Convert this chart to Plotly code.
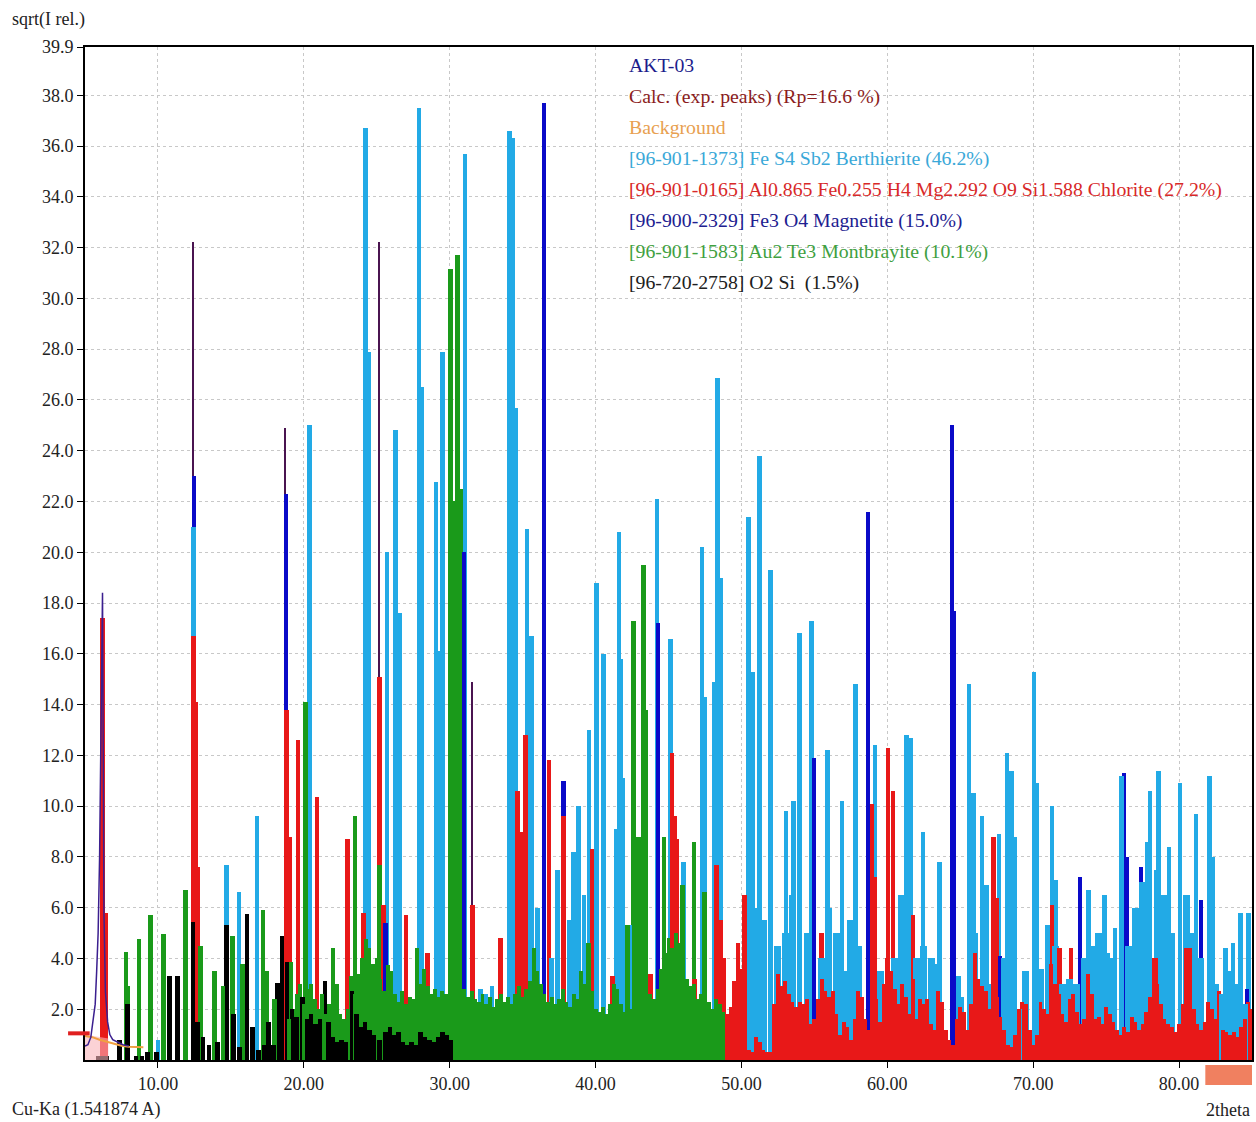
import plotly.graph_objects as go

# ---------------- data (2theta, sqrt(I rel.)) ----------------
# [96-901-1373] Berthierite (sky blue) peaks
BERTH = [(10.0, 0.8), (12.45, 21.0), (14.7, 7.7), (15.55, 6.6), (16.8, 9.6), (20.4, 25.0),
         (24.25, 36.7), (24.45, 27.9), (25.7, 20.0), (26.3, 24.8), (26.55, 17.6),
         (27.9, 37.5), (28.05, 26.5), (29.05, 22.75), (29.35, 16.1), (29.5, 27.9),
         (31.05, 35.7), (32.1, 2.8), (32.5, 2.6), (32.9, 2.9), (34.1, 36.6), (34.35, 36.3),
         (34.5, 25.7), (35.3, 20.9), (35.6, 16.7), (36.0, 6.0), (37.0, 4.0), (37.4, 7.5),
         (38.2, 5.5), (38.5, 8.2), (38.85, 10.0), (39.2, 6.5), (39.55, 13.0), (40.05, 18.8),
         (40.55, 16.0), (41.4, 9.1), (41.6, 20.8), (41.75, 15.8), (41.85, 11.1), (42.35, 5.3),
         (44.2, 22.1), (45.15, 16.6), (46.05, 7.8),
         (47.3, 20.2), (47.5, 14.3),
         (48.15, 14.9), (48.35, 26.85), (48.55, 19.0), (50.5, 21.4), (50.8, 15.3),
         (51.25, 23.8), (52.0, 19.3), (53.05, 9.8), (53.55, 10.2), (54.0, 16.8), (54.8, 17.3),
         (55.9, 12.2), (56.9, 10.2), (57.8, 14.8), (59.15, 12.4), (61.3, 12.8), (61.6, 12.7),
         (62.45, 9.0), (63.6, 7.8), (64.88, 3.3), (65.6, 14.8), (65.9, 10.5), (66.5, 9.6),
         (66.8, 6.9), (67.65, 8.9), (68.2, 12.1), (68.5, 11.4), (68.7, 8.8), (70.05, 15.3),
         (70.25, 10.9), (71.0, 5.3), (71.3, 10.0), (71.55, 7.1), (73.8, 6.7), (74.9, 6.5),
         (75.6, 5.2), (76.07, 11.2), (77.8, 8.6), (78.0, 10.6), (78.6, 11.4), (79.3, 8.4),
         (80.07, 10.9), (81.16, 9.7), (82.1, 11.2), (82.3, 8.0), (83.2, 4.4), (83.7, 4.6),
         (84.2, 5.8), (84.75, 5.8)]
# Berthierite body between peaks (high angles)
BERTH_BG = [(51.0, 6.0), (51.5, 5.5), (52.5, 4.5), (53.0, 5.0), (53.5, 6.5), (54.5, 5.0),
            (55.5, 4.0), (56.0, 6.0), (56.5, 5.0), (57.0, 3.5), (57.5, 5.5), (58.0, 4.5),
            (59.5, 3.5), (60.5, 4.0), (61.0, 6.5), (62.0, 4.0), (62.5, 4.5), (63.0, 4.0),
            (63.5, 3.8), (65.0, 2.5), (66.0, 5.0), (67.0, 3.0), (68.0, 4.0), (69.0, 2.0),
            (69.5, 3.5), (70.5, 3.6), (71.5, 4.5), (72.0, 3.0), (72.5, 3.2), (73.0, 3.0),
            (73.5, 4.0), (74.0, 4.5), (74.5, 5.0), (75.0, 4.2), (75.5, 4.0), (76.5, 4.5),
            (77.0, 6.0), (77.5, 7.0), (78.5, 7.5), (79.0, 6.5), (79.5, 5.0), (80.5, 6.5),
            (81.0, 5.0), (81.5, 4.0), (82.5, 3.0), (83.0, 2.6), (83.5, 3.5), (84.0, 3.0),
            (84.5, 2.2)]
# [96-901-0165] Chlorite (red) peaks
CHLOR = [(6.2, 17.4), (6.45, 5.8), (12.45, 16.7), (12.6, 14.1), (12.75, 7.6), (12.9, 4.5),
         (18.8, 13.8), (19.05, 8.8), (19.6, 12.6), (20.9, 10.35), (23.0, 8.7), (24.1, 5.8),
         (25.2, 15.1), (25.45, 6.1), (27.0, 5.7), (28.5, 4.2), (31.55, 6.1), (33.5, 4.8),
         (34.65, 10.6), (34.95, 9.0), (35.2, 12.8), (36.8, 11.8), (37.8, 9.6), (39.75, 8.3),
         (41.15, 3.3), (43.75, 3.4), (45.25, 12.1), (45.4, 9.6), (45.55, 8.7), (46.8, 3.2),
         (48.3, 7.7), (48.55, 5.5), (48.75, 4.0),
         (50.2, 6.5), (55.5, 5.0), (58.95, 10.1), (59.15, 7.2), (60.05, 12.3), (60.4, 10.6),
         (61.75, 5.7), (67.3, 8.8), (67.5, 6.4), (71.3, 6.1), (71.8, 4.4), (72.6, 4.4),
         (78.4, 4.0), (80.7, 4.4)]
# Chlorite continuum (high angles)
CHLOR_BG = [(49.0, 1.8), (49.25, 2.1), (49.5, 3.1), (49.75, 4.6), (50.0, 3.6), (50.25, 2.5),
            (50.5, 0.4), (50.75, 0.3), (51.0, 0.9), (51.25, 0.7), (51.5, 0.4), (51.75, 0.3),
            (52.0, 0.3), (52.25, 2.2), (52.5, 3.4), (52.75, 2.9), (53.0, 3.1), (53.25, 2.6),
            (53.5, 2.3), (53.75, 2.1), (54.0, 2.3), (54.25, 2.2), (54.5, 2.4), (54.75, 1.4),
            (55.0, 1.6), (55.25, 2.4), (55.5, 3.2), (55.75, 2.7), (56.0, 2.5), (56.25, 2.7),
            (56.5, 1.8), (56.75, 1.0), (57.0, 1.5), (57.25, 1.3), (57.5, 0.8), (57.75, 1.6),
            (58.0, 2.7), (58.25, 2.5), (58.5, 1.6), (58.75, 1.2), (59.0, 3.0), (59.25, 2.4),
            (59.5, 1.5), (59.75, 3.0), (60.0, 4.0), (60.25, 3.5), (60.5, 2.8), (60.75, 2.2),
            (61.0, 3.0), (61.25, 2.5), (61.5, 1.8), (61.75, 3.2), (62.0, 1.6), (62.25, 2.4),
            (62.5, 2.2), (62.75, 2.4), (63.0, 1.4), (63.25, 1.2), (63.5, 2.7), (63.75, 2.3),
            (64.0, 1.2), (64.25, 0.8), (64.5, 0.6), (64.75, 1.6), (65.0, 2.1), (65.25, 1.9),
            (65.5, 1.2), (65.75, 2.2), (66.0, 4.2), (66.25, 3.2), (66.5, 2.9), (66.75, 2.7),
            (67.0, 2.0), (67.25, 3.0), (67.5, 2.5), (67.75, 1.7), (68.0, 1.2), (68.25, 0.6),
            (68.5, 0.5), (68.75, 1.0), (69.0, 2.0), (69.25, 2.3), (69.5, 2.2), (69.75, 1.2),
            (70.0, 0.6), (70.25, 1.0), (70.5, 2.3), (70.75, 2.0), (71.0, 1.8), (71.25, 3.8),
            (71.5, 3.0), (71.75, 2.6), (72.0, 1.8), (72.25, 1.5), (72.5, 2.4), (72.75, 2.6),
            (73.0, 1.9), (73.25, 1.4), (73.5, 1.6), (73.75, 3.4), (74.0, 2.6), (74.25, 1.6),
            (74.5, 1.7), (74.75, 1.4), (75.0, 2.1), (75.25, 1.8), (75.5, 1.5), (75.75, 1.2),
            (76.0, 1.0), (76.25, 1.3), (76.5, 1.1), (76.75, 1.7), (77.0, 1.5), (77.25, 1.2),
            (77.5, 1.4), (77.75, 1.9), (78.0, 2.5), (78.25, 4.0), (78.5, 3.0), (78.75, 2.2),
            (79.0, 1.6), (79.25, 1.4), (79.5, 1.3), (79.75, 1.1), (80.0, 1.4), (80.25, 2.2),
            (80.5, 4.4), (80.75, 3.3), (81.0, 2.0), (81.25, 1.4), (81.5, 1.2), (81.75, 1.5),
            (82.0, 2.3), (82.25, 2.0), (82.5, 1.6), (82.75, 2.7), (83.0, 1.2), (83.25, 1.1),
            (83.5, 1.0), (83.75, 1.1), (84.0, 0.9), (84.25, 1.3), (84.5, 1.6), (84.75, 2.3),
            (85.0, 2.0)]
# [96-900-2329] Magnetite (blue) peaks
MAGN = [(12.45, 23.0), (18.75, 22.3), (25.6, 5.4), (31.0, 20.0), (36.45, 37.7), (37.8, 11.0),
        (44.25, 17.2), (55.0, 11.9), (58.7, 21.6), (64.45, 25.0), (64.6, 17.7), (67.75, 4.1),
        (73.2, 7.2), (76.25, 11.3), (76.4, 8.0), (77.4, 7.6), (81.5, 6.3), (84.65, 2.8)]
# [96-901-1583] Montbrayite (green) peaks
MONT = [(7.8, 4.25), (7.95, 2.9), (8.7, 4.75), (9.5, 5.7), (10.4, 4.95), (11.9, 6.7),
        (12.9, 4.5), (13.9, 3.5), (14.45, 2.9), (15.1, 4.9), (15.8, 3.8), (17.2, 5.9),
        (17.45, 3.5), (18.0, 2.4), (19.1, 3.85), (20.1, 14.1), (23.5, 9.6), (25.2, 7.7),
        (30.05, 31.15), (30.2, 22.0), (30.55, 31.7), (30.75, 22.5), (39.5, 4.6), (42.2, 5.3),
        (42.6, 17.3), (42.95, 8.8), (43.3, 19.5), (43.45, 13.8), (44.7, 8.8), (45.95, 6.9),
        (46.75, 8.6), (47.45, 6.6)]
# Montbrayite continuum
MONT_BG = [(19.0, 1.6), (19.25, 2.0), (19.5, 2.6), (19.75, 3.0), (20.0, 2.2), (20.25, 2.8),
           (20.5, 3.0), (20.75, 2.4), (21.0, 2.0), (21.25, 2.6), (21.5, 1.8), (21.75, 2.2),
           (22.0, 4.4), (22.25, 3.0), (22.5, 1.8), (22.75, 1.6), (23.0, 2.0), (23.25, 3.3),
           (23.5, 2.6), (23.75, 3.4), (24.0, 4.0), (24.25, 4.75), (24.5, 4.4), (24.75, 3.8),
           (25.0, 4.0), (25.25, 3.2), (25.5, 2.7), (25.75, 3.75), (26.0, 3.5), (26.25, 2.6),
           (26.5, 2.3), (26.75, 2.7), (27.0, 2.2), (27.25, 2.5), (27.5, 2.4), (27.75, 4.4),
           (28.0, 3.0), (28.25, 3.6), (28.5, 2.9), (28.75, 2.6), (29.0, 2.8), (29.25, 2.5),
           (29.5, 2.7), (29.75, 2.6), (30.0, 3.0), (30.25, 3.2), (30.5, 2.9), (30.75, 2.8),
           (31.0, 2.8), (31.25, 2.5), (31.5, 2.7), (31.75, 2.4), (32.0, 2.3), (32.25, 2.6),
           (32.5, 2.2), (32.75, 2.5), (33.0, 2.1), (33.25, 2.4), (33.5, 2.6), (33.75, 2.3),
           (34.0, 2.5), (34.25, 2.2), (34.5, 2.6), (34.75, 2.9), (35.0, 2.5), (35.25, 2.8),
           (35.5, 3.1), (35.75, 4.4), (36.0, 3.5), (36.25, 3.0), (36.5, 2.6), (36.75, 2.3),
           (37.0, 2.5), (37.25, 2.2), (37.5, 2.4), (37.75, 2.8), (38.0, 2.3), (38.25, 2.1),
           (38.5, 2.6), (38.75, 2.4), (39.0, 3.5), (39.25, 3.0), (39.5, 3.2), (39.75, 2.7),
           (40.0, 2.0), (40.25, 1.9), (40.5, 2.1), (40.75, 1.8), (41.0, 2.2), (41.25, 3.0),
           (41.5, 2.8), (41.75, 2.2), (42.0, 1.9), (42.25, 2.3), (42.5, 2.0), (42.75, 2.2),
           (43.0, 2.4), (43.25, 2.1), (43.5, 2.3), (43.75, 2.6), (44.0, 2.4), (44.25, 2.8),
           (44.5, 3.6), (44.75, 4.2), (45.0, 4.8), (45.25, 4.4), (45.5, 5.0), (45.75, 4.6),
           (46.0, 3.8), (46.25, 3.2), (46.5, 2.9), (46.75, 3.0), (47.0, 2.4), (47.25, 2.6),
           (47.5, 2.9), (47.75, 2.3), (48.0, 2.0), (48.25, 2.4), (48.5, 2.2), (48.75, 1.9)]
# [96-720-2758] O2 Si (black)
SIO2 = [(5.9, 0.15), (6.2, 0.15), (6.5, 0.15), (7.35, 0.8), (7.9, 2.2), (8.5, 0.15),
        (8.9, 0.15), (9.3, 0.3), (9.9, 0.3), (10.8, 3.3), (11.35, 3.3), (12.4, 5.45),
        (12.7, 1.5), (13.1, 0.9), (13.5, 0.6), (14.1, 0.7), (14.7, 5.3), (15.2, 1.8),
        (15.6, 0.5), (16.1, 5.75), (16.5, 1.3), (16.9, 0.4), (17.3, 0.6), (17.6, 1.5),
        (17.9, 0.6), (18.2, 3.05), (18.5, 4.9), (18.85, 3.85), (19.2, 2.0), (19.5, 1.7),
        (19.9, 2.5), (20.25, 1.6), (20.5, 1.8), (20.8, 1.4), (21.1, 1.6), (21.45, 3.1),
        (21.7, 1.5), (22.0, 0.9), (22.3, 0.7), (22.6, 0.8), (22.9, 0.7), (23.3, 2.7),
        (23.6, 1.8), (23.9, 1.3), (24.2, 1.5), (24.5, 1.2), (24.8, 1.0), (25.2, 0.8),
        (25.6, 1.1), (25.9, 1.3), (26.2, 1.0), (26.5, 1.1), (26.8, 0.7), (27.1, 0.6),
        (27.4, 0.7), (27.7, 0.6), (28.0, 1.1), (28.3, 0.9), (28.6, 0.8), (28.9, 0.7),
        (29.2, 0.9), (29.5, 1.1), (29.8, 1.0), (30.1, 0.8)]
# Calc. (exp. peaks) sharp maxima
CALC = [(12.45, 32.2), (18.75, 24.9), (25.15, 32.2), (31.55, 14.9)]
# AKT-03 observed profile (low angles)
OBS_X = [5.0, 5.2, 5.4, 5.55, 5.7, 5.8, 5.9, 6.0, 6.2, 6.3, 6.4, 6.55, 6.7, 6.9, 7.2, 7.6, 8.0]
OBS_Y = [0.55, 0.6, 0.9, 1.6, 2.2, 3.5, 5.0, 8.0, 18.4, 5.8, 2.7, 1.5, 1.0, 0.8, 0.7, 0.6, 0.55]
# Background
BKG_X = [5.0, 5.5, 6.0, 6.5, 7.0, 7.5, 8.0, 9.0]
BKG_Y = [0.95, 0.9, 0.8, 0.72, 0.62, 0.56, 0.52, 0.5]
# Difference region at lowest angles
DIFF_X = [5.0, 5.5, 6.0, 6.6]
DIFF_Y = [1.0, 0.95, 0.9, 0.85]

X_TICKS = [10, 20, 30, 40, 50, 60, 70, 80]
Y_TICKS = [2, 4, 6, 8, 10, 12, 14, 16, 18, 20, 22, 24, 26, 28, 30, 32, 34, 36, 38, 39.9]

# ---------------- styles ----------------
C_BERTH = "#22aae6"
C_CHLOR = "#e81818"
C_MAGN = "#0a0ac8"
C_MONT = "#1a9a1a"
C_SIO2 = "#000000"
C_CALC = "#4a1450"

groups = [
    (BERTH, C_BERTH, 0.32), (BERTH_BG, C_BERTH, 0.48),
    (CHLOR, C_CHLOR, 0.32), (CHLOR_BG, C_CHLOR, 0.27),
    (MAGN, C_MAGN, 0.28),
    (MONT, C_MONT, 0.32), (MONT_BG, C_MONT, 0.27),
    (SIO2, C_SIO2, 0.32),
    (CALC, C_CALC, 0.1),
]
items = []
for data, col, w in groups:
    for x, y in data:
        items.append((y, x, col, w))
# taller bars behind, shorter bars in front
items.sort(key=lambda t: -t[0])

fig = go.Figure()
fig.add_trace(go.Scatter(x=DIFF_X, y=DIFF_Y, mode="lines", fill="tozeroy",
                         line=dict(width=0, color="rgba(0,0,0,0)"),
                         fillcolor="rgba(248,180,185,0.6)", hoverinfo="skip", showlegend=False))
fig.add_trace(go.Bar(x=[t[1] for t in items], y=[t[0] for t in items],
                     width=[t[3] for t in items],
                     marker=dict(color=[t[2] for t in items], line=dict(width=0)),
                     hoverinfo="skip", showlegend=False))
fig.add_trace(go.Scatter(x=BKG_X, y=BKG_Y, mode="lines", line=dict(color="#f0a040", width=2),
                         hoverinfo="skip", showlegend=False))
fig.add_trace(go.Scatter(x=OBS_X, y=OBS_Y, mode="lines", line=dict(color="#3b1f8f", width=1.5),
                         hoverinfo="skip", showlegend=False))

legend = [
    ("AKT-03", "#1c1c8c"),
    ("Calc. (exp. peaks) (Rp=16.6 %)", "#8b1c1c"),
    ("Background", "#e8a050"),
    ("[96-901-1373] Fe S4 Sb2 Berthierite (46.2%)", "#3aa8d8"),
    ("[96-901-0165] Al0.865 Fe0.255 H4 Mg2.292 O9 Si1.588 Chlorite (27.2%)", "#d82828"),
    ("[96-900-2329] Fe3 O4 Magnetite (15.0%)", "#202090"),
    ("[96-901-1583] Au2 Te3 Montbrayite (10.1%)", "#40a040"),
    ("[96-720-2758] O2 Si  (1.5%)", "#202020"),
]
serif = "Liberation Serif, Times New Roman, serif"
ann = []
for i, (txt, col) in enumerate(legend):
    ann.append(dict(xref="paper", yref="paper", x=0.4645, y=0.982 - i * 0.0306,
                    xanchor="left", yanchor="middle", text=txt, showarrow=False,
                    font=dict(family=serif, size=19.8, color=col)))
ann += [
    dict(xref="paper", yref="paper", x=-0.064, y=1.027, xanchor="left", yanchor="middle",
         text="sqrt(I rel.)", showarrow=False, font=dict(family=serif, size=18, color="#222")),
    dict(xref="paper", yref="paper", x=-0.064, y=-0.049, xanchor="left", yanchor="middle",
         text="Cu-Ka (1.541874 A)", showarrow=False, font=dict(family=serif, size=18, color="#222")),
    dict(xref="paper", yref="paper", x=1.0, y=-0.049, xanchor="right", yanchor="middle",
         text="2theta", showarrow=False, font=dict(family=serif, size=18, color="#222")),
]

fig.update_layout(
    width=1256, height=1122,
    margin=dict(l=85, r=2, t=47, b=62),
    paper_bgcolor="white", plot_bgcolor="white",
    barmode="overlay", bargap=0,
    annotations=ann,
    shapes=[
        dict(type="rect", xref="paper", yref="paper", x0=0.96, x1=1.0, y0=-0.0247, y1=-0.005,
             fillcolor="#f08060", line=dict(width=0)),
        dict(type="line", xref="paper", yref="y", x0=-0.0145, x1=0.004, y0=1.05, y1=1.05,
             line=dict(color="#e02020", width=4)),
    ],
)
fig.update_xaxes(range=[5, 85], tickvals=X_TICKS, ticktext=["%.2f" % v for v in X_TICKS],
                 ticks="outside", ticklen=6, tickcolor="black",
                 showline=True, linecolor="black", linewidth=2, mirror=True,
                 showgrid=True, gridcolor="#c8c8c8", griddash="dot", gridwidth=1,
                 zeroline=False, tickfont=dict(family=serif, size=18, color="#222"))
fig.update_yaxes(range=[0, 39.9], tickvals=Y_TICKS, ticktext=["%.1f" % v for v in Y_TICKS],
                 ticks="outside", ticklen=6, tickcolor="black",
                 showline=True, linecolor="black", linewidth=2, mirror=True,
                 showgrid=True, gridcolor="#c8c8c8", griddash="dot", gridwidth=1,
                 zeroline=False, tickfont=dict(family=serif, size=18, color="#222"))

fig.write_html("out.html")
